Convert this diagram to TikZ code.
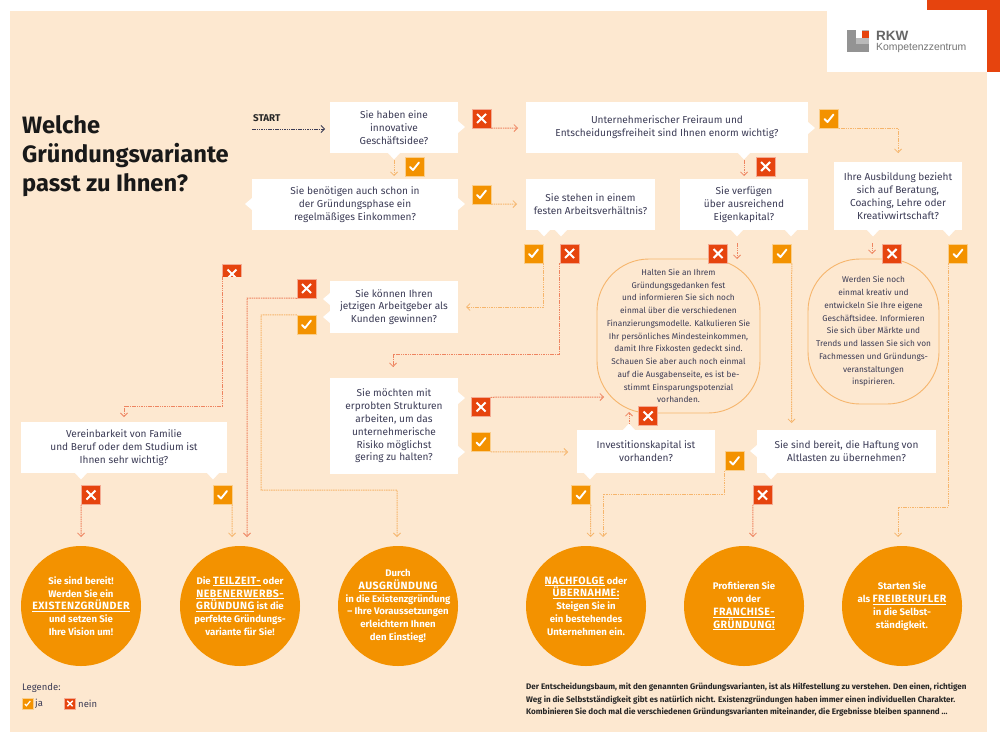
\documentclass[tikz,border=0pt]{standalone}
\usepackage{fontspec}
\setmainfont{Fira Sans}
\newfontfamily\logofont{Liberation Sans}
\usetikzlibrary{arrows.meta}
\definecolor{Peach}{HTML}{FDE8D0}
\definecolor{Or}{HTML}{F39200}
\definecolor{Rd}{HTML}{E6440E}
\definecolor{Ink}{HTML}{3B3B55}
\definecolor{OrLine}{HTML}{F6B56C}
\definecolor{RdLine}{HTML}{EE8460}
\newcommand{\nR}[2]{\fill[white] (#1,#2-6)--(#1+7,#2)--(#1,#2+6)--cycle;}
\newcommand{\nL}[2]{\fill[white] (#1,#2-6)--(#1-7,#2)--(#1,#2+6)--cycle;}
\newcommand{\nB}[2]{\fill[white] (#1-6,#2)--(#1,#2+6.5)--(#1+6,#2)--cycle;}
\newcommand{\nT}[2]{\fill[white] (#1-6,#2)--(#1,#2-6.5)--(#1+6,#2)--cycle;}
\newcommand{\up}[1]{\underline{\addfontfeature{LetterSpace=4.5}\fontsize{10.6}{12.8}\selectfont #1}}
\tikzset{
  x=1pt,y=-1pt,
  qbox/.style={fill=white,inner sep=0pt,align=center,text=Ink,font=\fontsize{10.1}{12.8}\selectfont},
  ja/.style={minimum size=19,inner sep=0pt,fill=Or,draw=Or!45,line width=.5,
    path picture={\draw[white,line width=1.9,line cap=round,line join=round,shift={(path picture bounding box.center)}] (-4.5,.5)--(-1.5,3.5)--(4.5,-4);}},
  nein/.style={minimum size=19,inner sep=0pt,fill=Rd,draw=Rd!45,line width=.5,
    path picture={\draw[white,line width=2.1,shift={(path picture bounding box.center)}] (-4.5,-4.5)--(4.5,4.5) (-4.5,4.5)--(4.5,-4.5);}},
  jas/.style={ja,minimum size=11,line width=.3,
    path picture={\draw[white,line width=1.2,shift={(path picture bounding box.center)}] (-2.8,.3)--(-1,2.2)--(2.8,-2.5);}},
  neins/.style={nein,minimum size=11,line width=.3,
    path picture={\draw[white,line width=1.4,shift={(path picture bounding box.center)}] (-2.7,-2.7)--(2.7,2.7) (-2.7,2.7)--(2.7,-2.7);}},
  conO/.style={draw=OrLine,line width=1,dash pattern=on 1.5pt off .8pt,-{Straight Barb[length=3.5pt,width=7pt,line width=.8pt]}},
  conR/.style={draw=RdLine,line width=1,dash pattern=on 1.5pt off .8pt,-{Straight Barb[length=3.5pt,width=7pt,line width=.8pt]}},
  conS/.style={draw=Ink,line width=.9,dash pattern=on 1.5pt off .8pt,-{Straight Barb[length=3.5pt,width=7pt,line width=.8pt]}},
  endc/.style={circle,fill=Or,minimum size=120,inner sep=-20pt,text=white,align=center,font=\fontsize{9.6}{12.8}\selectfont\bfseries},
  info/.style={rounded corners=52,draw=OrLine,line width=.9,inner sep=0pt,align=center,text=Ink,font=\fontsize{8.3}{12.75}\selectfont},
}
\begin{document}
\begin{tikzpicture}
\useasboundingbox (0,0) rectangle (1000,744);
\fill[white] (0,0) rectangle (1000,744);
\fill[Peach] (10,11) rectangle (987,732);
% logo block
\fill[Rd] (927,0) rectangle (1000,10);
\fill[Rd] (987,0) rectangle (1000,72);
\fill[white] (827,10) rectangle (987,72);
\fill[gray!85] (847,30) rectangle (869,52);
\fill[gray!55] (856,30) rectangle (869,44);
\fill[white] (856,30) rectangle (862,38);
\fill[Rd] (862,31) rectangle (869,38);
\node[anchor=west,inner sep=0pt,text=black!60,font=\logofont\fontsize{13.5}{14}\selectfont\bfseries] (logoA) at (876,36) {RKW};
\node[anchor=west,inner sep=0pt,text=black!55,font=\logofont\fontsize{10.4}{11}\selectfont] (logoB) at (876,48) {Kompetenzzentrum};
% title
\node[anchor=north west,inner sep=0pt,align=left,text=black!90,font=\fontsize{23.7}{29}\selectfont\bfseries] (title) at (22,115) {Welche\\Gründungsvariante\\passt zu Ihnen?};
\node[anchor=west,inner sep=0pt,text=black!85,font=\fontsize{9.8}{11}\selectfont\bfseries] (start) at (253,118) {START};
% notches
\nR{458}{127} \nB{394}{153} \nR{458}{204} \nL{252}{204}
\nR{808}{128} \nB{744}{153}
\nB{544}{230} \nB{561}{230}
\nB{737}{230} \nB{791}{230}
\nB{873}{230} \nB{949}{230}
\nL{330}{299} \nL{330}{317}
\nR{458}{398} \nR{458}{452}
\nT{629}{430} \nB{590}{473}
\nL{757}{451} \nB{771}{473}
\nB{81}{473} \nB{213}{473}
% question boxes
\node[qbox,minimum width=128,minimum height=51] (b1) at (394,127.5) {Sie haben eine\\innovative\\Geschäftsidee?};
\node[qbox,minimum width=206,minimum height=51] (b2) at (355,204.5) {Sie benötigen auch schon in\\der Gründungsphase ein\\regelmäßiges Einkommen?};
\node[qbox,minimum width=282,minimum height=51] (b3) at (667,127.5) {Unternehmerischer Freiraum und\\Entscheidungsfreiheit sind Ihnen enorm wichtig?};
\node[qbox,minimum width=129,minimum height=51] (b4) at (590.5,204.5) {Sie stehen in einem\\festen Arbeitsverhältnis?};
\node[qbox,minimum width=128,minimum height=51] (b5) at (744,204.5) {Sie verfügen\\über ausreichend\\Eigenkapital?};
\node[qbox,minimum width=128,minimum height=68] (b6) at (898,196) {Ihre Ausbildung bezieht\\sich auf Beratung,\\Coaching, Lehre oder\\Kreativwirtschaft?};
\node[qbox,minimum width=128,minimum height=52] (b7) at (394,307) {Sie können Ihren\\jetzigen Arbeitgeber als\\Kunden gewinnen?};
\node[qbox,minimum width=128,minimum height=96] (b8) at (394,426) {Sie möchten mit\\erprobten Strukturen\\arbeiten, um das\\unternehmerische\\Risiko möglichst\\gering zu halten?};
\node[qbox,minimum width=138,minimum height=43] (b9) at (646,451.5) {Investitionskapital ist\\vorhanden?};
\node[qbox,minimum width=179,minimum height=43] (b10) at (846.5,451.5) {Sie sind bereit, die Haftung von\\Altlasten zu übernehmen?};
\node[qbox,minimum width=206,minimum height=51] (b11) at (124,447.5) {Vereinbarkeit von Familie\\und Beruf oder dem Studium ist\\Ihnen sehr wichtig?};
% info bubbles
\node[info,minimum width=163,minimum height=154] (i1) at (678.5,336) {Halten Sie an Ihrem\\Gründungsgedanken fest\\und informieren Sie sich noch\\einmal über die verschiedenen\\Finanzierungsmodelle. Kalkulieren Sie\\Ihr persönliches Mindesteinkommen,\\damit Ihre Fixkosten gedeckt sind.\\Schauen Sie aber auch noch einmal\\auf die Ausgabenseite, es ist be-\\stimmt Einsparungspotenzial\\vorhanden.};
\node[info,minimum width=131,minimum height=145] (i2) at (873.5,331.5) {Werden Sie noch\\einmal kreativ und\\entwickeln Sie Ihre eigene\\Geschäftsidee. Informieren\\Sie sich über Märkte und\\Trends und lassen Sie sich von\\Fachmessen und Gründungs-\\veranstaltungen\\inspirieren.};
% outcome circles
\node[endc] (c1) at (81,606) {Sie sind bereit!\\Werden Sie ein\\\up{EXISTENZGRÜNDER}\\und setzen Sie\\Ihre Vision um!};
\node[endc] (c2) at (240,606) {Die \up{TEILZEIT-} oder\\\up{NEBENERWERBS-}\\\up{GRÜNDUNG} ist die\\perfekte Gründungs-\\variante für Sie!};
\node[endc] (c3) at (398,606) {Durch\\\up{AUSGRÜNDUNG}\\in die Existenzgründung\\– Ihre Voraussetzungen\\erleichtern Ihnen\\den Einstieg!};
\node[endc] (c4) at (586,606) {\up{NACHFOLGE} oder\\\up{ÜBERNAHME:}\\Steigen Sie in\\ein bestehendes\\Unternehmen ein.};
\node[endc] (c5) at (744,606) {Profitieren Sie\\von der\\\up{FRANCHISE-}\\\up{GRÜNDUNG!}};
\node[endc] (c6) at (902,606) {Starten Sie\\als \up{FREIBERUFLER}\\in die Selbst-\\ständigkeit.};
% answer squares
\node[nein] (r1) at (481.5,118.5) {};
\node[ja] (y1) at (414.5,166.5) {};
\node[ja] (y2) at (481.5,194.5) {};
\node[ja] (y3) at (533.5,253.5) {};
\node[nein] (r3) at (569.5,253.5) {};
\node[nein] (r4) at (765.5,166.5) {};
\node[ja] (y4) at (829,118.5) {};
\node[nein] (r5) at (718,253.5) {};
\node[ja] (y5) at (782,253.5) {};
\node[nein] (r6) at (892,253.5) {};
\node[ja] (y6) at (958,253.5) {};
\node[nein] (r7) at (306.5,288.5) {};
\node[ja] (y7) at (306.5,324.5) {};
\node[nein] (r8) at (481,407) {};
\node[ja] (y8) at (481,442) {};
\node[nein] (r9) at (648,416) {};
\node[ja] (y9) at (581,495) {};
\node[ja] (y10) at (734.5,461) {};
\node[nein] (r10) at (762.5,495) {};
\node[nein] (r11) at (91,495) {};
\node[ja] (y11) at (222.5,495) {};
\begin{scope}
\clip (220,262) rectangle (244,276);
\node[nein] (r0) at (232,274) {};
\end{scope}
% free connector ends
\coordinate (s0) at (252,129);
\coordinate (s1) at (325,129);
\coordinate (t1) at (394,160);
\coordinate (a1) at (394,176);
\coordinate (a2) at (518,128);
\coordinate (a3) at (517,204);
\coordinate (a4) at (466,307);
\coordinate (k3) at (393,354);
\coordinate (a5) at (393,367);
\coordinate (t3) at (744,160);
\coordinate (a6) at (744,176);
\coordinate (a7) at (898,153);
\coordinate (t5) at (737,243);
\coordinate (a8) at (737,259);
\coordinate (t6) at (872,243);
\coordinate (a9) at (872,254);
\coordinate (a10) at (791.5,423);
\coordinate (k6) at (898,507);
\coordinate (a11) at (898,537);
\coordinate (a12) at (753,537);
\coordinate (k10) at (603,494);
\coordinate (a13) at (603,537);
\coordinate (a14) at (590.5,537);
\coordinate (a15) at (604,397);
\coordinate (a16) at (568,452);
\coordinate (t9) at (629,424);
\coordinate (a17) at (629,412);
\coordinate (s0r) at (222,276);
\coordinate (k0) at (124,406);
\coordinate (a18) at (124,417);
\coordinate (k7) at (247,298);
\coordinate (a19) at (247,537);
\coordinate (k8) at (261,315);
\coordinate (k9) at (261,490);
\coordinate (k11) at (397,490);
\coordinate (a20) at (397,537);
\coordinate (a21) at (81,537);
\coordinate (a22) at (232,537);
% connectors
\draw[conS] (s0) -- (s1);
\draw[conO] (t1) -- (a1);
\draw[conR] (r1.south east) -- (a2);
\draw[conO] (y2.south east) -- (a3);
\draw[conO] (y3.south east) |- (a4);
\draw[conR] (r3.south west) |- (k3) -- (a5);
\draw[conR] (t3) -- (a6);
\draw[conO] (y4.south east) -| (a7);
\draw[conR] (t5) -- (a8);
\draw[conR] (t6) -- (a9);
\draw[conO] (y5.south east) -- (a10);
\draw[conO] (y6.south west) |- (k6) -- (a11);
\draw[conR] (r10.south west) -- (a12);
\draw[conO] (y10.south west) |- (k10) -- (a13);
\draw[conO] (y9.south east) -- (a14);
\draw[conR] (r8.north east) -- (a15);
\draw[conO] (y8.south east) -- (a16);
\draw[conR] (t9) -- (a17);
\draw[conR] (s0r) |- (k0) -- (a18);
\draw[conR] (r7.south west) -- (k7) -- (a19);
\draw[conO] (y7.north west) -- (k8) -- (k9) -- (k11) -- (a20);
\draw[conR] (r11.south west) -- (a21);
\draw[conO] (y11.south east) -- (a22);
% legend
\node[anchor=west,inner sep=0pt,text=Ink,font=\fontsize{9.5}{11}\selectfont] (lg) at (22,688) {Legende:};
\node[jas] (ljq) at (27.5,703.5) {};
\node[anchor=west,inner sep=0pt,text=Ink,font=\fontsize{9.5}{11}\selectfont] (ljt) at (35,703.5) {ja};
\node[neins] (lnq) at (70,703.5) {};
\node[anchor=west,inner sep=0pt,text=Ink,font=\fontsize{9.5}{11}\selectfont] (lnt) at (78,703.5) {nein};
% note
\node[anchor=north west,inner sep=0pt,align=left,text=black!85,font=\fontsize{8.07}{12.6}\selectfont\bfseries] (note) at (526,683) {Der Entscheidungsbaum, mit den genannten Gründungsvarianten, ist als Hilfestellung zu verstehen. Den einen, richtigen\\Weg in die Selbstständigkeit gibt es natürlich nicht. Existenzgründungen haben immer einen individuellen Charakter.\\Kombinieren Sie doch mal die verschiedenen Gründungsvarianten miteinander, die Ergebnisse bleiben spannend ...};
\end{tikzpicture}
\end{document}
